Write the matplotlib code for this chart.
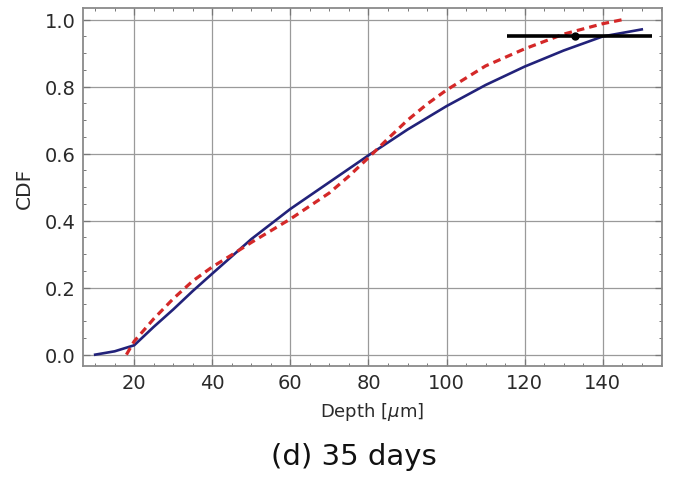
import matplotlib
matplotlib.use("Agg")
import matplotlib.pyplot as plt
from matplotlib.ticker import MultipleLocator

# Data
model_x = [10, 15, 20, 25, 30, 35, 40, 50, 60, 70, 80, 90, 100, 110, 120, 130, 140, 150]
model_y = [0.0, 0.01, 0.028, 0.083, 0.135, 0.19, 0.242, 0.345, 0.435, 0.515, 0.595, 0.672, 0.742, 0.805, 0.86, 0.908, 0.95, 0.971]

fit_x = [18, 20, 25, 30, 35, 40, 45, 50, 60, 70, 75, 80, 85, 90, 95, 100, 110, 120, 130, 140, 145]
fit_y = [0.0, 0.04, 0.107, 0.167, 0.22, 0.262, 0.298, 0.335, 0.405, 0.483, 0.533, 0.588, 0.645, 0.70, 0.748, 0.79, 0.862, 0.913, 0.957, 0.988, 1.0]

err_x = 133.0
err_y = 0.95
err_lo = 115.6
err_hi = 152.5

x_ticks = [20, 40, 60, 80, 100, 120, 140]
y_ticks = [0.0, 0.2, 0.4, 0.6, 0.8, 1.0]
x_label = "Depth [$\\mu$m]"
y_label = "CDF"
caption = "(d) 35 days"

plt.rcParams['font.family'] = ['DejaVu Sans']
plt.rcParams['mathtext.fontset'] = 'dejavusans'

fig = plt.figure(figsize=(6.76, 4.85), dpi=100)
ax = fig.add_axes([0.1223, 0.2439, 0.8565, 0.7369])

ax.set_xlim(6.8, 155.1)
ax.set_ylim(-0.033, 1.034)

ax.grid(True, color='#9a9a9a', linewidth=0.9)
ax.set_axisbelow(True)

ax.plot(model_x, model_y, color='#22227a', linewidth=1.9, zorder=3)
ax.plot(fit_x, fit_y, color='#d42828', linewidth=2.3, dashes=(2.4, 1.6), zorder=4)
ax.plot([err_lo, err_hi], [err_y, err_y], color='black', linewidth=2.6, zorder=5,
        solid_capstyle='butt')
ax.plot([err_x], [err_y], 'o', color='black', markersize=5, zorder=6)

ax.set_xticks(x_ticks)
ax.set_xticklabels([str(v) for v in x_ticks])
ax.set_yticks(y_ticks)
ax.set_yticklabels([f"{v:.1f}" for v in y_ticks])
ax.xaxis.set_minor_locator(MultipleLocator(5))
ax.yaxis.set_minor_locator(MultipleLocator(0.05))

ax.tick_params(which='both', direction='in', top=True, right=True, color='#777777')
ax.tick_params(which='major', length=5, width=0.9, labelsize=14, labelcolor='#2a2a2a', pad=5)
ax.tick_params(which='minor', length=2.5, width=0.7)

for s in ax.spines.values():
    s.set_color('#8a8a8a')
    s.set_linewidth(1.3)

ax.set_xlabel(x_label, fontsize=13, color='#2a2a2a', labelpad=6)
ax.set_ylabel(y_label, fontsize=14.5, color='#2a2a2a', labelpad=8)

fig.text(0.523, 0.058, caption, fontsize=21, ha='center', va='center', color='#111111')

fig.savefig("out.png", dpi=100)
